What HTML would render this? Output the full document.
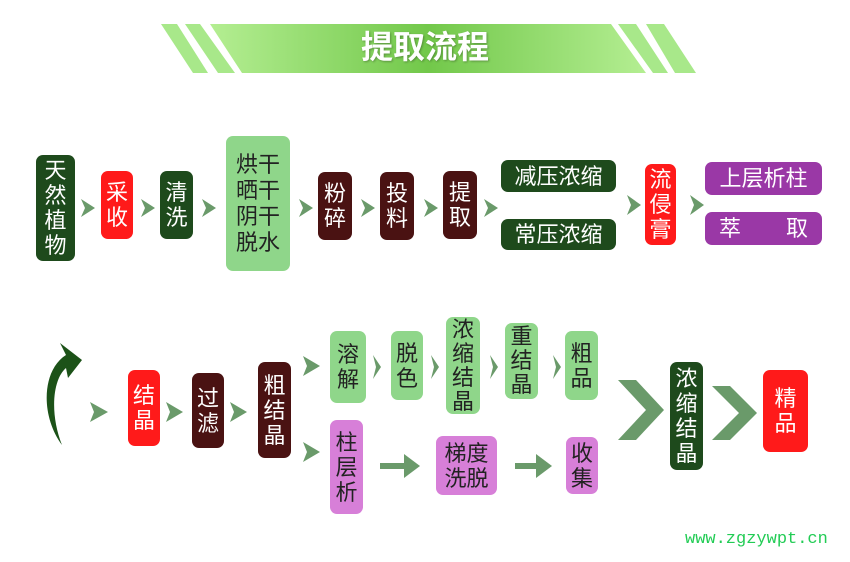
<!DOCTYPE html>
<html><head><meta charset="utf-8"><style>
body{margin:0;width:850px;height:562px;background:#fff;position:relative;overflow:hidden;font-family:"Liberation Sans","Noto Sans CJK SC",sans-serif}
.b{position:absolute;border-radius:7px;color:#fff;display:flex;align-items:center;justify-content:center;text-align:center;font-size:22px;line-height:25px;box-sizing:border-box}
.dg{background:#1e4a1c}.rd{background:#ff1a1a}.br{background:#4a1212}.lg{background:#8fd68a;color:#222}.pu{background:#9a38a6}.vi{background:#d77fd8;color:#222}
svg{position:absolute;left:0;top:0}
</style></head><body>
<svg width="850" height="562">
<defs><linearGradient id="g" x1="0" x2="1"><stop offset="0" stop-color="#b4ee92"/><stop offset="0.5" stop-color="#72c84a"/><stop offset="1" stop-color="#b4ee92"/></linearGradient></defs>
<polygon points="161,24 177,24 208,73 193,73" fill="#a8e88a"/>
<polygon points="185,24 200,24 235,73 218,73" fill="#a8e88a"/>
<polygon points="210,24 611,24 646,73 242,73" fill="url(#g)"/>
<polygon points="618,24 636,24 668,73 653,73" fill="#a8e88a"/>
<polygon points="646,24 664,24 696,73 675,73" fill="#a8e88a"/>
<g fill="#6a9a6a">
<polygon points="81,199 95,208 81,217 85,208"/>
<polygon points="141,199 155,208 141,217 145,208"/>
<polygon points="202,199 216,208 202,217 206,208"/>
<polygon points="299,199 313,208 299,217 303,208"/>
<polygon points="361,199 375,208 361,217 365,208"/>
<polygon points="424,199 438,208 424,217 428,208"/>
<polygon points="484,199 498,208 484,217 488,208"/>
<polygon points="627,195 641,205 627,215 631,205"/>
<polygon points="690,195 704,205 690,215 694,205"/>
<polygon points="90,402 108,412 90,422 94,412"/>
<polygon points="166,402 183,412 166,422 170,412"/>
<polygon points="230,402 247,412 230,422 234,412"/>
<polygon points="303,356 320,366 303,376 307,366"/>
<polygon points="303,442 320,452 303,462 307,452"/>
<polygon points="373,355 381,367 373,379 376,367"/>
<polygon points="431,355 439,367 431,379 434,367"/>
<polygon points="490,355 498,367 490,379 493,367"/>
<polygon points="553,355 561,367 553,379 556,367"/>
<rect x="380" y="463" width="28" height="6"/><polygon points="404,454 420,466 404,478"/>
<rect x="515" y="463" width="25" height="6"/><polygon points="536,454 552,466 536,478"/>
<polygon points="618,380 636,380 664,410 636,440 618,440 646,410"/>
<polygon points="712,386 730,386 757,413 730,440 712,440 739,413"/>
</g>
<path d="M62,445 C40,415 42,370 66,355 L60,343 L82,360 L68,378 L66,368 C52,380 50,415 62,445 Z" fill="#1c5218"/>
</svg>
<div style="position:absolute;left:0;width:850px;top:26px;text-align:center;color:#fff;font-size:32px;font-weight:bold;line-height:42px;text-shadow:1px 1px 2px rgba(0,0,0,0.3)">提取流程</div>
<div class="b dg" style="left:36px;top:155px;width:39px;height:106px">天<br>然<br>植<br>物</div>
<div class="b rd" style="left:101px;top:171px;width:32px;height:68px">采<br>收</div>
<div class="b dg" style="left:160px;top:171px;width:33px;height:68px">清<br>洗</div>
<div class="b lg" style="left:226px;top:136px;width:64px;height:135px;line-height:26px">烘干<br>晒干<br>阴干<br>脱水</div>
<div class="b br" style="left:318px;top:172px;width:34px;height:68px">粉<br>碎</div>
<div class="b br" style="left:380px;top:172px;width:34px;height:68px">投<br>料</div>
<div class="b br" style="left:443px;top:171px;width:34px;height:68px">提<br>取</div>
<div class="b dg" style="left:501px;top:160px;width:115px;height:32px">减压浓缩</div>
<div class="b dg" style="left:501px;top:219px;width:115px;height:31px">常压浓缩</div>
<div class="b rd" style="left:645px;top:164px;width:31px;height:81px">流<br>侵<br>膏</div>
<div class="b pu" style="left:705px;top:162px;width:117px;height:33px">上层析柱</div>
<div class="b pu" style="left:705px;top:212px;width:117px;height:33px;justify-content:space-between;padding:0 14px">萃<span>取</span></div>
<div class="b rd" style="left:128px;top:370px;width:32px;height:76px">结<br>晶</div>
<div class="b br" style="left:192px;top:373px;width:32px;height:75px">过<br>滤</div>
<div class="b br" style="left:258px;top:362px;width:33px;height:96px">粗<br>结<br>晶</div>
<div class="b lg" style="left:330px;top:331px;width:36px;height:72px">溶<br>解</div>
<div class="b lg" style="left:391px;top:331px;width:32px;height:69px">脱<br>色</div>
<div class="b lg" style="left:446px;top:317px;width:34px;height:97px;line-height:24px">浓<br>缩<br>结<br>晶</div>
<div class="b lg" style="left:505px;top:323px;width:33px;height:76px;line-height:24px">重<br>结<br>晶</div>
<div class="b lg" style="left:565px;top:331px;width:33px;height:69px">粗<br>品</div>
<div class="b vi" style="left:330px;top:420px;width:33px;height:94px">柱<br>层<br>析</div>
<div class="b vi" style="left:436px;top:436px;width:61px;height:59px">梯度<br>洗脱</div>
<div class="b vi" style="left:566px;top:437px;width:32px;height:57px">收<br>集</div>
<div class="b dg" style="left:670px;top:362px;width:33px;height:108px">浓<br>缩<br>结<br>晶</div>
<div class="b rd" style="left:763px;top:370px;width:45px;height:82px">精<br>品</div>
<div style="position:absolute;left:685px;top:530px;color:#22cc55;font-family:'Liberation Mono',monospace;font-size:17px">www.zgzywpt.cn</div>
</body></html>
